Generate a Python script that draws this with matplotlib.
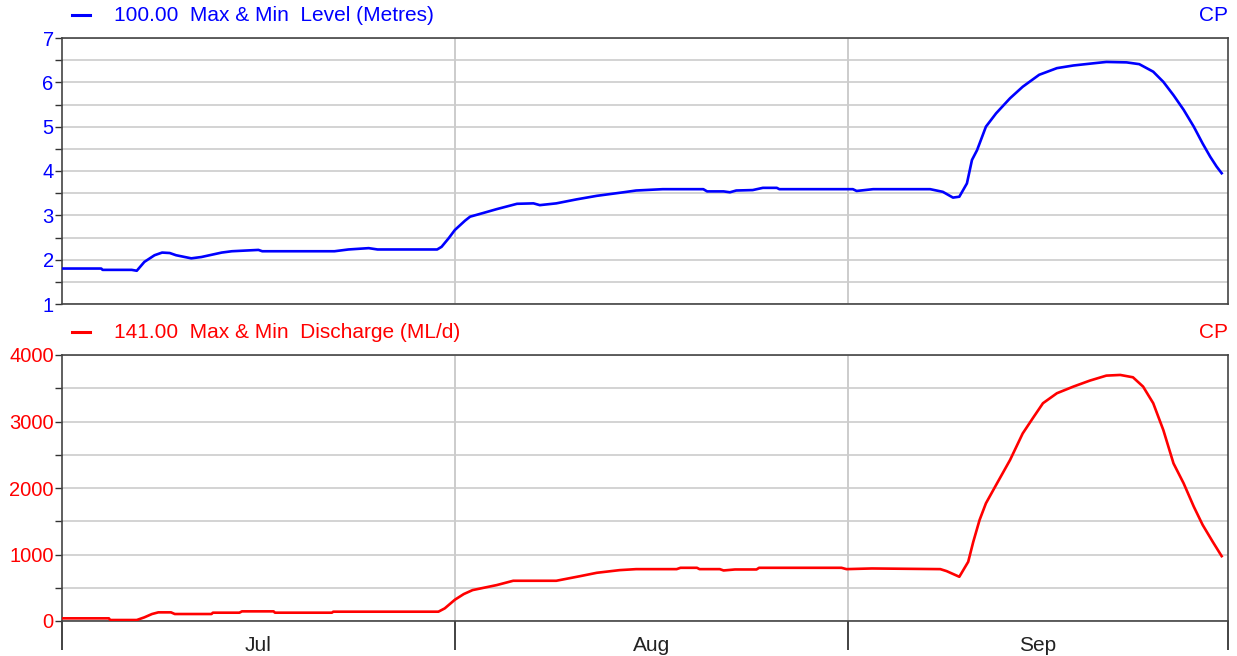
import matplotlib.pyplot as plt
import numpy as np

plt.rcParams["font.family"] = ["Liberation Sans", "DejaVu Sans"]

# days since 1 Jul
month_edges = [0, 31, 62, 92]
month_names = ["Jul", "Aug", "Sep"]

level_day = [0, 3.1, 3.2, 5.5, 5.9, 6.5, 7.3, 7.9, 8.5, 9.0, 10.2, 11.0, 12.6, 13.4,
             15.5, 15.8, 21.5, 22.6, 24.2, 24.9, 29.6, 29.95, 30.5, 31.0, 31.8, 32.2,
             33.2, 34.3, 35.9, 37.2, 37.7, 39.0, 40.6, 42.2, 44.3, 45.3, 47.4, 50.6,
             50.9, 52.2, 52.7, 53.2, 54.5, 55.3, 56.4, 56.6, 62.4, 62.7, 64.0, 68.5,
             69.5, 70.3, 70.8, 71.4, 71.8, 72.2, 72.9, 73.7, 74.8, 75.8, 77.1, 78.5,
             79.8, 81.4, 82.4, 84.0, 85.0, 86.1, 86.9, 87.7, 88.5, 89.3, 90.0, 90.6,
             91.1, 91.5]
level_m = [1.80, 1.80, 1.77, 1.77, 1.75, 1.95, 2.10, 2.16, 2.15, 2.10, 2.03, 2.06, 2.16, 2.19,
           2.22, 2.19, 2.19, 2.23, 2.26, 2.23, 2.23, 2.29, 2.48, 2.67, 2.88, 2.97,
           3.05, 3.14, 3.26, 3.27, 3.23, 3.27, 3.36, 3.44, 3.52, 3.56, 3.59, 3.59,
           3.54, 3.54, 3.52, 3.56, 3.57, 3.62, 3.62, 3.59, 3.59, 3.55, 3.59, 3.59,
           3.53, 3.40, 3.42, 3.72, 4.25, 4.47, 5.00, 5.30, 5.64, 5.90, 6.17, 6.32,
           6.38, 6.43, 6.46, 6.45, 6.41, 6.24, 6.01, 5.71, 5.38, 5.00, 4.62, 4.32,
           4.10, 3.95]

flow_day = [0, 3.7, 3.8, 5.9, 6.5, 7.1, 7.6, 8.6, 8.9, 11.8, 11.9, 14.0, 14.2, 16.7,
            16.8, 21.3, 21.4, 29.7, 30.2, 31.0, 31.7, 32.4, 34.3, 35.6, 39.0, 40.9,
            42.2, 44.0, 45.3, 48.5, 48.8, 50.1, 50.3, 51.9, 52.2, 53.1, 54.8, 55.0,
            61.5, 61.9, 63.9, 69.3, 69.8, 70.8, 71.5, 71.9, 72.4, 72.9, 73.7, 74.8,
            75.8, 76.6, 77.4, 78.5, 79.8, 81.1, 82.4, 83.5, 84.5, 85.3, 86.1, 86.9,
            87.7, 88.5, 89.3, 90.0, 90.8, 91.5]
flow_mld = [40, 40, 15, 15, 55, 105, 130, 130, 105, 105, 125, 125, 145, 145,
            125, 125, 140, 140, 190, 320, 405, 465, 540, 605, 605, 675,
            725, 765, 780, 780, 800, 800, 780, 780, 760, 775, 775, 800,
            800, 780, 790, 780, 750, 665, 890, 1190, 1520, 1770, 2045, 2420,
            2820, 3050, 3275, 3425, 3525, 3615, 3690, 3700, 3665, 3525, 3275, 2870,
            2370, 2070, 1720, 1445, 1190, 975]

W, H = 1237, 656
fig = plt.figure(figsize=(W / 100, H / 100), dpi=100)
ax1 = fig.add_axes([62 / W, 1 - 304 / H, 1166 / W, 266 / H])
ax2 = fig.add_axes([62 / W, 1 - 621 / H, 1166 / W, 266 / H])

panels = [
    (ax1, level_day, level_m, "blue", "100.00  Max & Min  Level (Metres)", (1, 7), 1, 0.5),
    (ax2, flow_day, flow_mld, "red", "141.00  Max & Min  Discharge (ML/d)", (0, 4000), 1000, 500),
]

for ax, xs, ys, col, title, ylim, major, minor in panels:
    ax.plot(xs, ys, color=col, lw=1.9, zorder=3)
    ax.set_xlim(month_edges[0], month_edges[-1])
    ax.set_ylim(*ylim)
    ax.set_yticks(np.arange(ylim[0], ylim[1] + major / 2, major))
    ax.set_yticks(np.arange(ylim[0], ylim[1] + minor / 2, minor), minor=True)
    ax.grid(True, which="both", axis="y", color="#cccccc", lw=1.2, zorder=0)
    for d in month_edges[1:-1]:
        ax.axvline(d, color="#c4c4c4", lw=1.2, zorder=0)
    ax.tick_params(axis="y", which="both", direction="out", length=5, width=1,
                   color="#333333", labelcolor=col, labelsize=14.5, pad=1)
    for s in ax.spines.values():
        s.set_color("#444444")
        s.set_linewidth(1.2)
    # legend-style header
    ax.plot([0.009, 0.024], [1.085, 1.085], transform=ax.transAxes, color=col,
            lw=2.2, clip_on=False)
    ax.text(0.045, 1.085, title, transform=ax.transAxes, color=col, fontsize=15,
            ha="left", va="center")
    ax.text(1.0, 1.085, "CP", transform=ax.transAxes, color=col, fontsize=15,
            ha="right", va="center")

ax1.set_xticks([])
ax2.set_xticks(month_edges)
ax2.set_xticklabels([])
ax2.tick_params(axis="x", direction="out", length=21, width=1.2, color="#222222")
mids = [(a + b) / 2 for a, b in zip(month_edges[:-1], month_edges[1:])]
ax2.set_xticks(mids, minor=True)
ax2.set_xticklabels(month_names, minor=True)
ax2.tick_params(axis="x", which="minor", length=0, labelsize=15,
                labelcolor="#222222", pad=11)

fig.savefig("out.png", dpi=100)
